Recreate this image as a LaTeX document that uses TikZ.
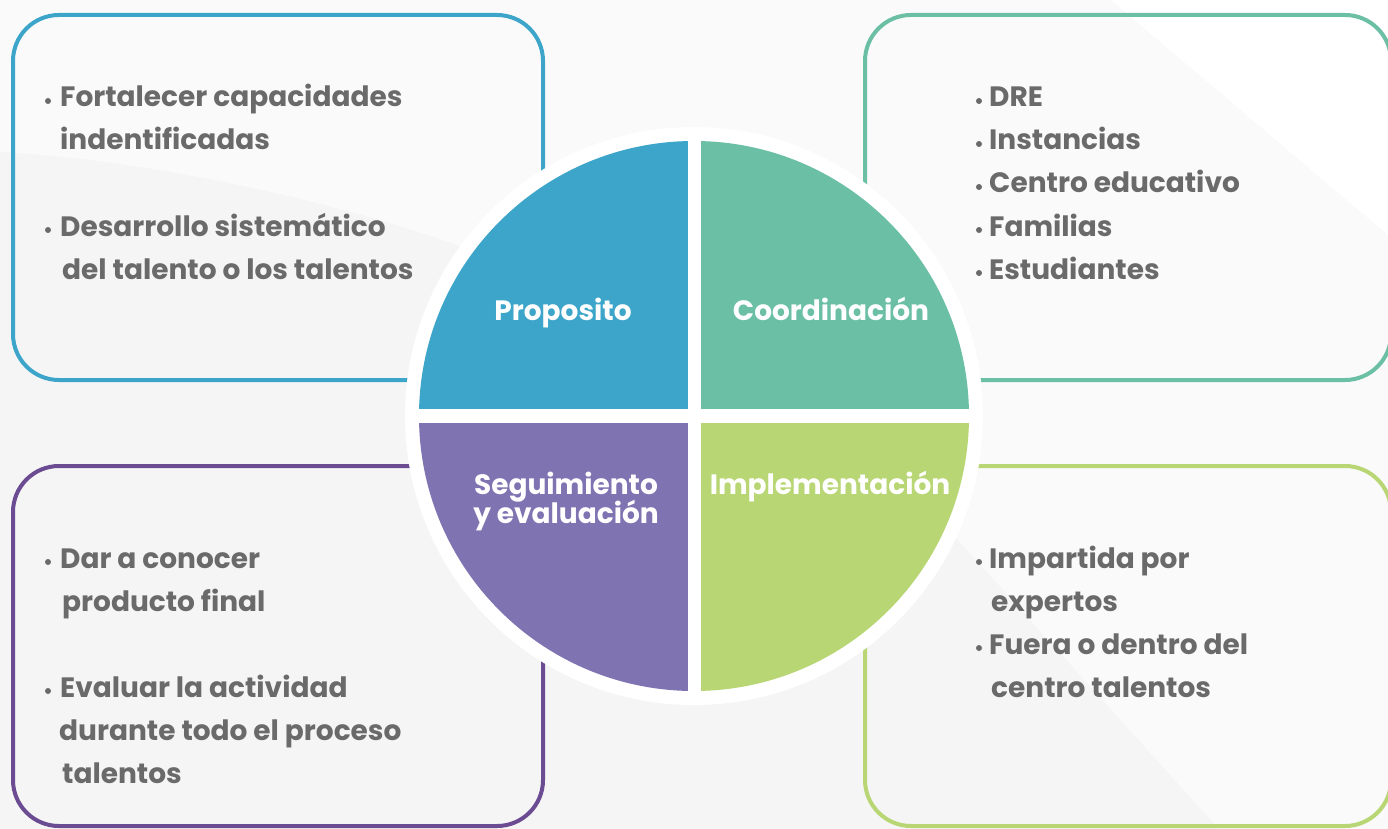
\documentclass[tikz,border=0pt]{standalone}
\usepackage{fontspec}
\setmainfont{Poppins}
\definecolor{bgA}{HTML}{F5F5F5}
\definecolor{bgB}{HTML}{FAFAFA}
\definecolor{txtgray}{HTML}{6A6A6A}
\definecolor{cblue}{HTML}{3DA5C9}
\definecolor{cteal}{HTML}{6BBFA5}
\definecolor{cpurple}{HTML}{7F73B2}
\definecolor{cpurpleline}{HTML}{6B4C92}
\definecolor{cgreen}{HTML}{B8D674}
\begin{document}
\begin{tikzpicture}[x=1pt,y=-1pt,
  boxline/.style={line width=4pt, rounded corners=46pt},
  item/.style={anchor=base west, inner sep=0pt, text=txtgray, font=\fontsize{28}{30}\selectfont\bfseries},
  qlabel/.style={anchor=base, inner sep=0pt, text=white, font=\fontsize{28}{30}\selectfont\bfseries},
  dotb/.style={fill=txtgray}
]
\useasboundingbox (0,0) rectangle (1388,829);
% background
\fill[bgA] (0,0) rectangle (1388,829);
\fill[bgB] (0,0) -- (0,152) .. controls (150,160) and (330,200) .. (457,245)
  -- (958,540) -- (1219,829) -- (1388,829) -- (1388,0) -- cycle;
\fill[white] (1111,0) -- (1388,235) -- (1388,0) -- cycle;
% boxes
\draw[boxline, draw=cblue] (13,15) rectangle (543,380);
\draw[boxline, draw=cteal] (865,15) rectangle (1391,380);
\draw[boxline, draw=cpurpleline] (13,466) rectangle (543,826);
\draw[boxline, draw=cgreen] (865,466) rectangle (1391,826);
% circle
\coordinate (C) at (694,416);
\fill[white] (C) circle[radius=289pt];
\begin{scope}
  \clip (C) circle[radius=275pt];
  \fill[cblue] (380,100) rectangle (687.5,409);
  \fill[cteal] (700.5,100) rectangle (1000,409);
  \fill[cpurple] (380,423) rectangle (687.5,730);
  \fill[cgreen] (700.5,423) rectangle (1000,730);
\end{scope}
\node[qlabel] (q1) at (563,320) {Proposito};
\node[qlabel] (q2) at (831,320) {Coordinación};
\node[qlabel] (q3a) at (566,494.5) {Seguimiento};
\node[qlabel] (q3b) at (566,523) {y evaluación};
\node[qlabel] (q4) at (830,494.5) {Implementación};
% top-left texts
\fill[dotb] (48,101) circle[radius=3pt];
\node[item] (a1) at (60,107) {Fortalecer capacidades};
\node[item] (a2) at (60,150) {indentificadas};
\fill[dotb] (48,230) circle[radius=3pt];
\node[item] (a3) at (60,236) {Desarrollo sistemático};
\node[item] (a4) at (62,279) {del talento o los talentos};
% top-right texts
\fill[dotb] (979,101) circle[radius=3pt];
\node[item] (b1) at (989,107) {DRE};
\fill[dotb] (979,144) circle[radius=3pt];
\node[item] (b2) at (989,150) {Instancias};
\fill[dotb] (979,187) circle[radius=3pt];
\node[item] (b3) at (989,193) {Centro educativo};
\fill[dotb] (979,230) circle[radius=3pt];
\node[item] (b4) at (989,236) {Familias};
\fill[dotb] (979,273) circle[radius=3pt];
\node[item] (b5) at (989,279) {Estudiantes};
% bottom-left texts
\fill[dotb] (48,562) circle[radius=3pt];
\node[item] (c1) at (60,568) {Dar a conocer};
\node[item] (c2) at (62,611) {producto final};
\fill[dotb] (48,691) circle[radius=3pt];
\node[item] (c3) at (60,697) {Evaluar la actividad};
\node[item] (c4) at (59,740) {durante todo el proceso};
\node[item] (c5) at (62,783) {talentos};
% bottom-right texts
\fill[dotb] (979,562) circle[radius=3pt];
\node[item] (d1) at (989,568) {Impartida por};
\node[item] (d2) at (991,611) {expertos};
\fill[dotb] (979,648) circle[radius=3pt];
\node[item] (d3) at (989,654) {Fuera o dentro del};
\node[item] (d4) at (991,697) {centro talentos};
\end{tikzpicture}
\end{document}
